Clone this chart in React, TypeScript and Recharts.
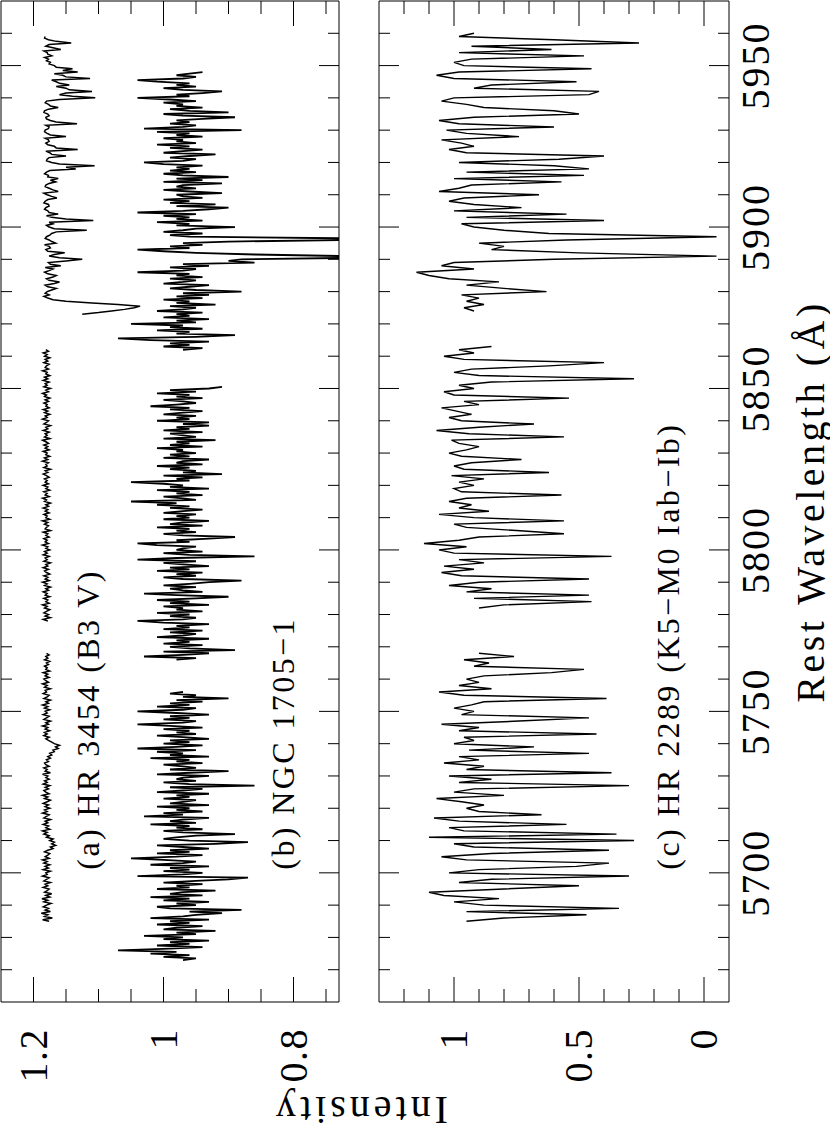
import React from "react";
import { LineChart, Line, XAxis, YAxis, ReferenceDot } from "recharts";

const FONT = "'Liberation Serif', 'DejaVu Serif', serif";

// rest wavelength axis (Å)
const waveDomain = [5660, 5970];
const waveTicks = [
  5670, 5680, 5690, 5700, 5710, 5720, 5730, 5740, 5750, 5760, 5770, 5780, 5790, 5800, 5810,
  5820, 5830, 5840, 5850, 5860, 5870, 5880, 5890, 5900, 5910, 5920, 5930, 5940, 5950, 5960,
];
const waveMajor = [5700, 5750, 5800, 5850, 5900, 5950];

// intensity axes
const topDomain = [0.73, 1.25];
const topTicks = [0.75, 0.8, 0.85, 0.9, 0.95, 1, 1.05, 1.1, 1.15, 1.2];
const topMajor = [0.8, 1, 1.2];

const bottomDomain = [-0.1, 1.3];
const bottomTicks = [0, 0.1, 0.2, 0.3, 0.4, 0.5, 0.6, 0.7, 0.8, 0.9, 1, 1.1, 1.2];
const bottomMajor = [0, 0.5, 1];

// (a) HR 3454 (B3 V), 0.5 Å sampling
const hr3454Starts = [5685, 5778, 5873];
const hr3454Step = 0.5;
const hr3454Seg1 = [
  1.176, 1.186, 1.171, 1.183, 1.178, 1.188, 1.174, 1.182, 1.177, 1.185,
  1.18, 1.173, 1.184, 1.178, 1.187, 1.175, 1.181, 1.172, 1.183, 1.179,
  1.176, 1.185, 1.178, 1.182, 1.174, 1.184, 1.18, 1.176, 1.186, 1.179,
  1.181, 1.174, 1.185, 1.177, 1.182, 1.175, 1.184, 1.179, 1.186, 1.176,
  1.182, 1.178, 1.175, 1.183, 1.178, 1.17, 1.174, 1.166, 1.172, 1.168,
  1.175, 1.17, 1.18, 1.176, 1.184, 1.179, 1.186, 1.175, 1.181, 1.177,
  1.185, 1.178, 1.182, 1.174, 1.184, 1.18, 1.176, 1.186, 1.179, 1.183,
  1.175, 1.182, 1.177, 1.185, 1.179, 1.174, 1.183, 1.178, 1.186, 1.176,
  1.181, 1.184, 1.177, 1.182, 1.175, 1.185, 1.179, 1.183, 1.176, 1.181,
  1.178, 1.186, 1.174, 1.182, 1.179, 1.184, 1.176, 1.181, 1.183, 1.177,
  1.18, 1.174, 1.178, 1.172, 1.175, 1.168, 1.17, 1.162, 1.166, 1.16,
  1.168, 1.172, 1.177, 1.181, 1.176, 1.184, 1.179, 1.183, 1.175, 1.182,
  1.178, 1.186, 1.177, 1.181, 1.174, 1.184, 1.18, 1.176, 1.185, 1.179,
  1.182, 1.175, 1.183, 1.178, 1.186, 1.177, 1.181, 1.174, 1.184, 1.179,
  1.176, 1.185, 1.18, 1.182, 1.174, 1.183, 1.179, 1.186, 1.177, 1.181,
  1.184, 1.176, 1.182, 1.178, 1.185, 1.175, 1.181, 1.179, 1.183, 1.177,
  1.18, 1.175, 1.183, 1.178, 1.181, 1.176, 1.18,
];
const hr3454Seg2 = [
  1.178, 1.185, 1.174, 1.182, 1.177, 1.184, 1.18, 1.175, 1.183, 1.179,
  1.186, 1.176, 1.181, 1.178, 1.184, 1.175, 1.182, 1.179, 1.185, 1.177,
  1.181, 1.174, 1.183, 1.179, 1.186, 1.176, 1.182, 1.178, 1.184, 1.175,
  1.18, 1.183, 1.177, 1.185, 1.178, 1.181, 1.174, 1.184, 1.179, 1.182,
  1.176, 1.185, 1.179, 1.183, 1.175, 1.181, 1.178, 1.186, 1.177, 1.182,
  1.179, 1.184, 1.176, 1.181, 1.178, 1.185, 1.174, 1.182, 1.18, 1.177,
  1.183, 1.178, 1.186, 1.175, 1.181, 1.179, 1.184, 1.176, 1.182, 1.178,
  1.185, 1.177, 1.181, 1.174, 1.183, 1.18, 1.186, 1.176, 1.182, 1.179,
  1.184, 1.175, 1.181, 1.178, 1.185, 1.177, 1.182, 1.179, 1.183, 1.176,
  1.18, 1.185, 1.178, 1.182, 1.174, 1.184, 1.179, 1.181, 1.177, 1.186,
  1.178, 1.183, 1.175, 1.181, 1.179, 1.185, 1.176, 1.182, 1.178, 1.184,
  1.177, 1.181, 1.186, 1.175, 1.183, 1.179, 1.182, 1.176, 1.185, 1.178,
  1.181, 1.174, 1.184, 1.18, 1.177, 1.186, 1.179, 1.182, 1.175, 1.183,
  1.178, 1.185, 1.176, 1.181, 1.179, 1.184, 1.177, 1.182, 1.175, 1.183,
  1.18, 1.186, 1.177, 1.181, 1.174, 1.184, 1.179, 1.182, 1.176, 1.185,
  1.178, 1.183, 1.175, 1.181, 1.179, 1.186, 1.177, 1.182, 1.18, 1.176,
  1.184, 1.178, 1.182, 1.175, 1.183, 1.179, 1.185, 1.177, 1.181,
];
const hr3454Seg3 = [
  1.125, 1.1, 1.08, 1.06, 1.045, 1.036, 1.07, 1.11, 1.15, 1.17,
  1.178, 1.184, 1.176, 1.182, 1.179, 1.172, 1.165, 1.178, 1.182, 1.168,
  1.16, 1.176, 1.18, 1.17, 1.165, 1.178, 1.183, 1.176, 1.17, 1.182,
  1.158, 1.174, 1.177, 1.15, 1.125, 1.16, 1.176, 1.168, 1.152, 1.178,
  1.181, 1.174, 1.176, 1.183, 1.166, 1.172, 1.176, 1.182, 1.18, 1.175,
  1.172, 1.165, 1.118, 1.168, 1.176, 1.18, 1.17, 1.176, 1.108, 1.15,
  1.172, 1.18, 1.162, 1.176, 1.178, 1.183, 1.181, 1.176, 1.177, 1.184,
  1.182, 1.178, 1.164, 1.172, 1.179, 1.184, 1.162, 1.17, 1.176, 1.182,
  1.181, 1.176, 1.166, 1.174, 1.162, 1.178, 1.177, 1.183, 1.18, 1.175,
  1.135, 1.15, 1.106, 1.16, 1.172, 1.18, 1.179, 1.176, 1.15, 1.172,
  1.175, 1.181, 1.132, 1.165, 1.168, 1.178, 1.181, 1.176, 1.177, 1.182,
  1.15, 1.174, 1.179, 1.183, 1.182, 1.177, 1.176, 1.181, 1.133, 1.165,
  1.174, 1.18, 1.181, 1.176, 1.178, 1.184, 1.183, 1.177, 1.162, 1.174,
  1.177, 1.182, 1.18, 1.16, 1.105, 1.14, 1.16, 1.15, 1.11, 1.145,
  1.15, 1.165, 1.145, 1.16, 1.165, 1.172, 1.113, 1.15, 1.155, 1.168,
  1.132, 1.155, 1.14, 1.165, 1.168, 1.176, 1.174, 1.18, 1.177, 1.183,
  1.172, 1.178, 1.179, 1.184, 1.158, 1.17, 1.181, 1.176, 1.142, 1.165,
  1.177, 1.183, 1.182,
];

// (b) NGC 1705-1, 0.5 Å sampling
const ngc1705Starts = [5673, 5766, 5862];
const ngc1705Step = 0.5;
const ngc1705Seg1 = [
  0.97, 0.95, 1.0, 0.96, 1.02, 0.98, 1.07, 0.99, 0.94, 1.01,
  0.96, 0.99, 0.93, 1.0, 0.97, 1.03, 0.95, 0.98, 0.92, 1.0,
  0.98, 0.94, 1.01, 0.96, 0.99, 0.93, 1.02, 0.97, 0.95, 0.91,
  0.96, 0.88, 0.99, 1.01, 0.95, 0.98, 0.93, 1.0, 0.96, 1.02,
  0.94, 0.99, 0.97, 0.92, 1.01, 0.96, 0.98, 0.94, 1.0, 0.95,
  0.9, 0.87, 1.04, 0.97, 0.94, 1.0, 0.96, 0.99, 0.93, 1.02,
  0.97, 0.95, 1.0, 1.05, 0.98, 0.94, 1.01, 0.96, 0.99, 0.93,
  0.97, 1.01, 0.92, 0.87, 0.96, 1.0, 0.98, 0.95, 0.89, 0.97,
  1.0, 0.94, 0.98, 0.96, 1.02, 0.95, 0.99, 0.97, 0.93, 1.03,
  0.97, 1.0, 0.94, 0.98, 0.96, 1.01, 0.93, 0.99, 0.97, 0.95,
  1.0, 0.96, 0.98, 0.93, 1.01, 0.97, 0.94, 0.99, 0.86, 0.96,
  1.0, 0.95, 0.98, 0.97, 0.93, 1.01, 0.96, 0.9, 0.99, 0.95,
  0.97, 1.0, 0.94, 0.98, 0.96, 1.02, 0.93, 0.99, 0.97, 1.01,
  0.95, 1.04, 0.98, 0.94, 1.0, 0.96, 0.99, 0.93, 0.97, 1.01,
  0.95, 0.98, 0.96, 1.0, 0.94, 0.99, 1.04, 0.97, 0.95, 1.0,
  0.96, 0.99, 0.93, 0.98, 1.04, 0.97, 0.95, 1.01, 0.96, 0.99,
  0.94, 0.98, 0.9, 0.97, 0.95, 0.99, 0.97,
];
const ngc1705Seg2 = [
  0.98, 0.95, 1.03, 0.97, 0.93, 1.0, 0.89, 0.96, 0.99, 0.94,
  1.0, 0.96, 0.98, 0.93, 1.01, 0.97, 0.95, 0.99, 0.94, 1.0,
  0.96, 0.98, 0.93, 1.0, 1.04, 0.97, 0.95, 0.99, 0.96, 1.01,
  0.94, 0.98, 0.97, 1.0, 0.93, 0.99, 0.96, 1.01, 0.95, 0.9,
  0.98, 1.03, 0.94, 0.97, 0.99, 0.95, 1.0, 0.96, 0.93, 0.88,
  0.97, 1.0, 0.95, 0.98, 0.94, 1.01, 0.96, 0.99, 0.93, 0.97,
  1.0, 0.95, 1.04, 0.98, 0.86, 0.96, 1.0, 0.94, 0.98, 0.97,
  0.95, 1.01, 1.04, 0.96, 0.98, 0.93, 0.89, 0.97, 1.0, 0.95,
  0.98, 0.96, 1.01, 0.94, 0.99, 0.97, 0.93, 1.0, 0.96, 0.98,
  0.95, 1.0, 0.97, 0.94, 0.99, 0.96, 1.01, 0.98, 1.05, 0.95,
  0.97, 1.0, 0.94, 0.98, 0.96, 1.01, 0.93, 0.99, 0.97, 1.0,
  1.05, 0.96, 0.98, 0.94, 1.0, 0.91, 0.97, 0.95, 0.99, 0.96,
  1.01, 0.94, 0.98, 0.97, 0.93, 1.0, 0.96, 0.99, 0.95, 0.98,
  0.97, 1.01, 0.94, 0.99, 0.96, 0.98, 0.92, 1.0, 0.95, 0.97,
  0.99, 0.94, 1.0, 0.96, 0.98, 0.93, 0.97, 0.93, 1.01, 0.96,
  0.98, 0.95, 1.0, 0.97, 0.94, 0.99, 0.96, 1.02, 0.98, 0.95,
  0.97, 1.0, 0.94, 0.98, 0.96, 1.01, 0.95, 0.99, 0.93, 0.91,
];
const ngc1705Seg3 = [
  0.97, 0.94, 1.0, 0.96, 0.99, 0.93, 1.02, 1.07, 0.95, 0.89,
  0.98, 0.96, 1.01, 0.94, 0.99, 0.97, 1.05, 0.95, 0.98, 0.93,
  1.0, 0.96, 0.98, 0.94, 1.01, 0.97, 0.95, 0.99, 0.92, 0.98,
  0.96, 1.0, 0.94, 0.98, 0.93, 0.97, 0.88, 0.95, 0.99, 0.96,
  0.93, 1.0, 0.97, 0.95, 0.99, 0.94, 0.98, 0.96, 1.04, 0.97,
  0.95, 0.99, 0.93, 0.97, 0.86, 0.9, 0.88, 0.7, 0.72, 0.86,
  0.95, 1.0, 1.04, 0.96, 0.99, 0.94, 0.97, 0.9, 0.7, 0.72,
  0.96, 0.99, 0.94, 1.0, 0.97, 0.95, 0.89, 0.98, 0.96, 1.01,
  0.94, 0.98, 0.96, 1.0, 0.95, 1.04, 0.97, 0.93, 0.9, 0.98,
  0.92, 0.99, 0.96, 1.0, 0.94, 0.97, 0.98, 0.91, 0.96, 1.0,
  0.95, 0.98, 0.97, 0.91, 1.0, 0.94, 0.98, 0.9, 0.97, 1.0,
  0.95, 0.99, 0.96, 0.98, 0.94, 1.0, 1.03, 0.97, 0.95, 0.99,
  0.96, 0.92, 1.0, 0.97, 0.94, 0.99, 0.96, 1.01, 0.95, 0.98,
  0.97, 1.0, 0.94, 0.98, 0.96, 1.01, 0.88, 1.03, 0.97, 0.95,
  0.99, 0.96, 0.98, 0.94, 0.89, 0.97, 1.0, 0.9, 0.96, 0.99,
  0.94, 0.98, 0.97, 1.0, 0.95, 0.99, 1.04, 0.96, 0.98, 0.94,
  0.91, 0.97, 1.0, 0.95, 0.98, 0.96, 1.01, 1.04, 0.97, 0.95,
  0.98, 0.96, 0.94,
];

// (c) HR 2289 (K5-M0 Iab-Ib), 1 Å sampling
const hr2289Starts = [5685, 5782, 5874];
const hr2289Step = 1;
const hr2289Seg1 = [
  0.95, 0.8, 0.47, 0.95, 0.34, 0.88, 1.0, 0.82, 1.04, 1.1,
  0.8, 0.5, 0.98, 0.85, 0.3, 1.02, 0.9, 0.51, 0.38, 0.95,
  1.05, 0.85, 0.38, 0.92, 1.0, 0.28, 1.1, 0.35, 0.96, 1.02,
  0.55, 0.98, 1.08, 0.65, 0.9, 0.95, 0.88, 0.97, 1.07, 0.8,
  1.0, 0.92, 0.3, 0.98, 0.85, 1.02, 0.37, 0.95, 0.88, 1.04,
  0.9, 0.98, 0.46, 0.94, 0.68, 1.0, 0.92, 0.96, 0.43, 0.98,
  0.9, 1.05, 0.74, 0.46, 0.97, 0.92, 1.0, 0.93, 0.88, 0.39,
  0.96, 1.06, 0.85, 0.98, 0.9, 0.95, 0.88, 0.61, 0.48, 0.92,
  0.86, 0.96, 0.76, 0.9,
];
const hr2289Seg2 = [
  0.9, 0.8, 0.45, 0.92, 0.46, 0.95, 0.85, 1.02, 0.9, 0.46,
  0.97, 1.05, 0.92, 1.04, 0.88, 0.98, 0.37, 1.0, 1.06, 0.95,
  1.12, 0.98, 0.9, 0.56, 0.75, 0.95, 1.0, 0.56, 0.92, 1.06,
  0.86, 0.98, 0.93, 1.02, 0.95, 0.57, 0.97, 1.0, 0.92, 0.98,
  0.88, 1.01, 0.62, 0.96, 1.0, 0.93, 0.73, 0.97, 1.02, 0.95,
  0.9, 0.98, 1.01, 0.56, 0.94, 1.07, 0.9, 0.68, 0.97, 1.02,
  0.93, 0.99, 1.05, 0.9, 0.96, 0.54, 1.0, 1.04, 0.92, 0.98,
  0.85, 0.28, 0.9, 1.0, 0.93, 0.62, 0.4, 0.96, 1.04, 0.92,
  0.98, 0.85,
];
const hr2289Seg3 = [
  0.92, 0.96, 0.88, 0.95, 0.9, 0.97, 0.63, 0.8, 0.95, 0.82,
  1.02, 1.1, 1.15, 0.92, 1.05, 1.0, 0.6, -0.05, 0.5, 0.85,
  0.8, 0.9, 0.55, -0.05, 0.62, 0.8, 0.92, 0.97, 0.4, 0.95,
  0.55, 1.0, 0.73, 0.92, 1.02, 0.96, 0.66, 1.06, 0.98, 0.93,
  0.57, 1.0, 0.48, 0.95, 0.46, 0.6, 0.98, 0.58, 0.4, 0.95,
  1.02, 0.92, 0.97, 1.05, 0.74, 0.95, 1.03, 0.6, 0.98, 1.06,
  0.92, 0.5, 0.6, 0.88, 0.95, 1.05, 1.0, 0.46, 0.42, 0.92,
  0.85, 0.51, 1.0, 1.07, 0.98, 0.45, 0.96, 1.0, 0.93, 0.48,
  0.98, 0.61, 0.93, 0.26, 0.6, 0.98, 0.92,
];

type Pt = { w: number; v: number | null };

function spectrum(starts: number[], step: number, segs: number[][]): Pt[] {
  const out: Pt[] = [];
  segs.forEach((vals, k) => {
    if (k > 0) out.push({ w: starts[k] - step, v: null });
    vals.forEach((v, i) => out.push({ w: starts[k] + i * step, v }));
  });
  return out;
}

const hr3454 = spectrum(hr3454Starts, hr3454Step, [hr3454Seg1, hr3454Seg2, hr3454Seg3]);
const ngc1705 = spectrum(ngc1705Starts, ngc1705Step, [ngc1705Seg1, ngc1705Seg2, ngc1705Seg3]);
const hr2289 = spectrum(hr2289Starts, hr2289Step, [hr2289Seg1, hr2289Seg2, hr2289Seg3]);

function WaveTick(props: any) {
  const { x, y, payload, side, labels } = props;
  const v = payload.value;
  const major = waveMajor.includes(v);
  const len = major ? 20 : 11;
  const y2 = side === "bottom" ? y - len : y + len;
  return (
    <g>
      <line x1={x} y1={y} x2={x} y2={y2} stroke="#000" strokeWidth={1} />
      {labels && major ? (
        <text x={x} y={y + 40} textAnchor="middle" fontFamily={FONT} fontSize={40} letterSpacing={2} fill="#000">
          {v}
        </text>
      ) : null}
    </g>
  );
}

function IntensityTick(props: any) {
  const { x, y, payload, side, major, labels } = props;
  const v = payload.value;
  const isMajor = major.some((m: number) => Math.abs(m - v) < 1e-6);
  const len = isMajor ? 25 : 13;
  const x2 = side === "left" ? x + len : x - len;
  return (
    <g>
      <line x1={x} y1={y} x2={x2} y2={y} stroke="#000" strokeWidth={1} />
      {labels && isMajor ? (
        <text x={x - 26} y={y + 13} textAnchor="end" fontFamily={FONT} fontSize={40} letterSpacing={1.5} fill="#000">
          {String(v)}
        </text>
      ) : null}
    </g>
  );
}

const panelLabel = (text: string) => (p: any) => (
  <text x={p.cx} y={p.cy} fontFamily={FONT} fontSize={32} letterSpacing={2.4} fill="#000">
    {text}
  </text>
);

function WaveTitle(props: any) {
  const vb = props.viewBox || {};
  return (
    <text x={vb.x + vb.width / 2} y={vb.y + 95} textAnchor="middle" fontFamily={FONT} fontSize={40} letterSpacing={3.5} fill="#000">
      Rest Wavelength (Å)
    </text>
  );
}

const axisCommon = {
  tickSize: 0,
  tickMargin: 0,
  tickLine: false,
  interval: 0 as const,
  allowDataOverflow: true,
  axisLine: { stroke: "#000", strokeWidth: 1 },
};

export default function App() {
  return (
    <div style={{ position: "absolute", left: 0, top: 0, width: 830, height: 1129, overflow: "hidden", background: "#fff" }}>
      <div
        style={{
          position: "absolute",
          left: 0,
          top: 0,
          width: 1129,
          height: 830,
          transformOrigin: "0 0",
          transform: "translateY(1129px) rotate(-90deg)",
        }}
      >
        <div style={{ position: "absolute", left: 0, top: 0 }}>
          <LineChart width={1129} height={340} margin={{ top: 0, right: 0, bottom: 0, left: 0 }}>
            <XAxis xAxisId="b" orientation="bottom" type="number" dataKey="w" domain={waveDomain} ticks={waveTicks} height={1} tick={<WaveTick side="bottom" />} {...axisCommon} />
            <XAxis xAxisId="t" orientation="top" type="number" dataKey="w" domain={waveDomain} ticks={waveTicks} height={1} tick={<WaveTick side="top" />} {...axisCommon} />
            <YAxis yAxisId="l" orientation="left" type="number" domain={topDomain} ticks={topTicks} width={127} tick={<IntensityTick side="left" major={topMajor} labels />} {...axisCommon} />
            <YAxis yAxisId="r" orientation="right" type="number" domain={topDomain} ticks={topTicks} width={1} tick={<IntensityTick side="right" major={topMajor} />} {...axisCommon} />
            <Line xAxisId="b" yAxisId="l" data={hr3454} dataKey="v" type="linear" stroke="#000" strokeWidth={1.5} dot={false} connectNulls={false} isAnimationActive={false} />
            <Line xAxisId="b" yAxisId="l" data={ngc1705} dataKey="v" type="linear" stroke="#000" strokeWidth={1.8} dot={false} connectNulls={false} isAnimationActive={false} />
            <ReferenceDot xAxisId="b" yAxisId="l" x={5701} y={1.1} r={1} shape={panelLabel("(a) HR 3454 (B3 V)")} />
            <ReferenceDot xAxisId="b" yAxisId="l" x={5701} y={0.8} r={1} shape={panelLabel("(b) NGC 1705\u22121")} />
          </LineChart>
        </div>
        <div style={{ position: "absolute", left: 0, top: 378 }}>
          <LineChart width={1129} height={452} margin={{ top: 0, right: 0, bottom: 0, left: 0 }}>
            <XAxis xAxisId="b" orientation="bottom" type="number" dataKey="w" domain={waveDomain} ticks={waveTicks} height={101} tick={<WaveTick side="bottom" labels />} label={<WaveTitle />} {...axisCommon} />
            <XAxis xAxisId="t" orientation="top" type="number" dataKey="w" domain={waveDomain} ticks={waveTicks} height={1} tick={<WaveTick side="top" />} {...axisCommon} />
            <YAxis yAxisId="l" orientation="left" type="number" domain={bottomDomain} ticks={bottomTicks} width={127} tick={<IntensityTick side="left" major={bottomMajor} labels />} {...axisCommon} />
            <YAxis yAxisId="r" orientation="right" type="number" domain={bottomDomain} ticks={bottomTicks} width={1} tick={<IntensityTick side="right" major={bottomMajor} />} {...axisCommon} />
            <Line xAxisId="b" yAxisId="l" data={hr2289} dataKey="v" type="linear" stroke="#000" strokeWidth={1.4} dot={false} connectNulls={false} isAnimationActive={false} />
            <ReferenceDot xAxisId="b" yAxisId="l" x={5701} y={0.1} r={1} shape={panelLabel("(c) HR 2289 (K5\u2212M0 Iab\u2212Ib)")} />
          </LineChart>
        </div>
        <div
          style={{
            position: "absolute",
            left: 19,
            top: 360,
            transform: "translate(-50%, -50%) rotate(-90deg)",
            fontFamily: FONT,
            fontSize: 40,
            lineHeight: "40px",
            letterSpacing: 4,
            whiteSpace: "nowrap",
            color: "#000",
          }}
        >
          Intensity
        </div>
      </div>
    </div>
  );
}
